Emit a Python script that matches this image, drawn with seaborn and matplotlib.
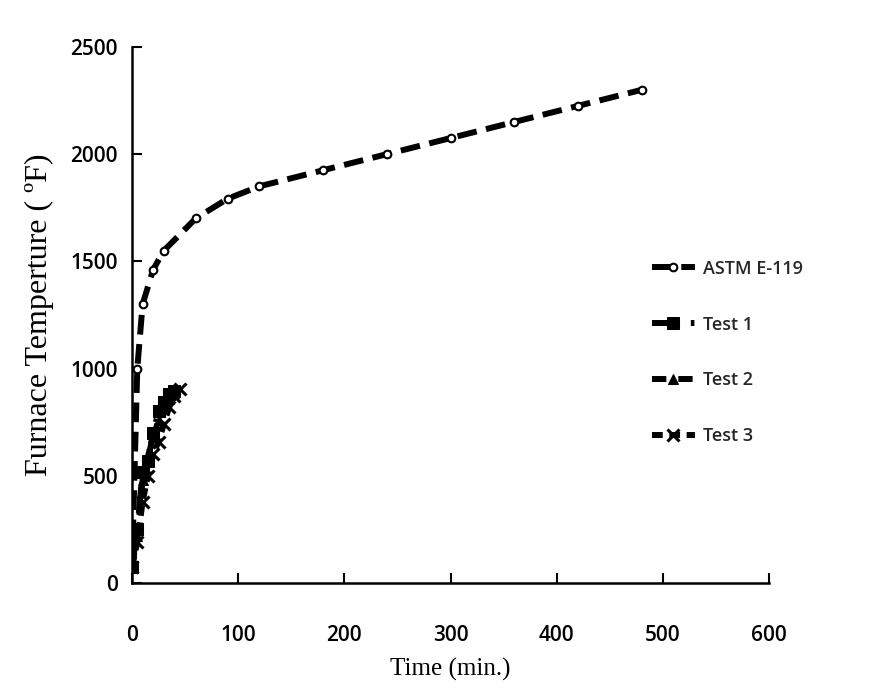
import matplotlib
matplotlib.use("Agg")
import matplotlib.pyplot as plt
import seaborn as sns
import numpy as np

# ---- data ----
astm_time = [0, 5, 10, 20, 30, 60, 90, 120, 180, 240, 300, 360, 420, 480]
astm_temp = [68, 1000, 1300, 1462, 1550, 1700, 1792, 1850, 1925, 2000, 2075, 2150, 2225, 2300]

test1_time = [0, 5, 10, 15, 20, 25, 30, 35, 40]
test1_temp = [75, 250, 520, 570, 700, 800, 845, 880, 895]

test2_time = [0, 5, 10, 15, 20, 25, 30, 35, 40]
test2_temp = [75, 220, 480, 590, 680, 760, 820, 860, 885]

test3_time = [0, 5, 10, 15, 20, 25, 30, 35, 40, 45]
test3_temp = [75, 190, 380, 500, 600, 660, 740, 820, 870, 905]

labels = ["ASTM E-119", "Test 1", "Test 2", "Test 3"]
x_ticks = [0, 100, 200, 300, 400, 500, 600]
y_ticks = [0, 500, 1000, 1500, 2000, 2500]

sns.set_theme(style="ticks")
plt.rcParams['font.family'] = ['Open Sans', 'DejaVu Sans']

fig = plt.figure(figsize=(8.74, 6.90), dpi=100)
ax = fig.add_axes([0.151, 0.155, 0.729, 0.777])

lw = 4.3
sns.lineplot(x=astm_time, y=astm_temp, ax=ax, color="black", lw=lw,
             marker="o", markersize=5.5, markerfacecolor="white",
             markeredgecolor="black", markeredgewidth=1.5,
             label=labels[0])
ax.lines[-1].set_dashes([3.3, 1.6])

sns.lineplot(x=test1_time, y=test1_temp, ax=ax, color="black", lw=lw,
             marker="s", markersize=8, markeredgecolor="black",
             label=labels[1])
ax.lines[-1].set_dashes([4.5, 2.0, 0.6, 2.0])

sns.lineplot(x=test2_time, y=test2_temp, ax=ax, color="black", lw=lw,
             marker="^", markersize=7, markeredgecolor="black",
             label=labels[2])
ax.lines[-1].set_dashes([2.4, 2.0])

sns.lineplot(x=test3_time, y=test3_temp, ax=ax, color="black", lw=lw,
             marker="x", markersize=8, markeredgewidth=2.2, markeredgecolor="black",
             label=labels[3])
ax.lines[-1].set_dashes([1.8, 1.1])

ax.set_xlim(0, 600)
ax.set_ylim(0, 2500)
ax.set_xticks(x_ticks)
ax.set_yticks(y_ticks)
ax.set_xticklabels([str(v) for v in x_ticks])
ax.set_yticklabels([str(v) for v in y_ticks])
ax.tick_params(axis="both", direction="in", length=7, width=1.5,
               labelsize=15, colors="black")
ax.tick_params(axis="x", pad=30)
ax.tick_params(axis="y", pad=10)
for lab in ax.get_xticklabels() + ax.get_yticklabels():
    lab.set_fontweight("semibold")

sns.despine(ax=ax)
for s in ["left", "bottom"]:
    ax.spines[s].set_linewidth(1.8)
    ax.spines[s].set_color("black")

ax.set_xlabel("Time (min.)", fontfamily="Liberation Serif", fontsize=18,
              color="black", labelpad=9)
ax.set_ylabel("Furnace Temperture ( ºF)", fontfamily="Liberation Serif",
              fontsize=23, color="black", labelpad=12)

leg = ax.legend(loc="center left", bbox_to_anchor=(0.79, 0.43), frameon=False,
                fontsize=13, handlelength=2.4, labelspacing=2.1,
                handletextpad=0.45)
for t in leg.get_texts():
    t.set_fontweight("semibold")

fig.savefig("out.png", dpi=100)
